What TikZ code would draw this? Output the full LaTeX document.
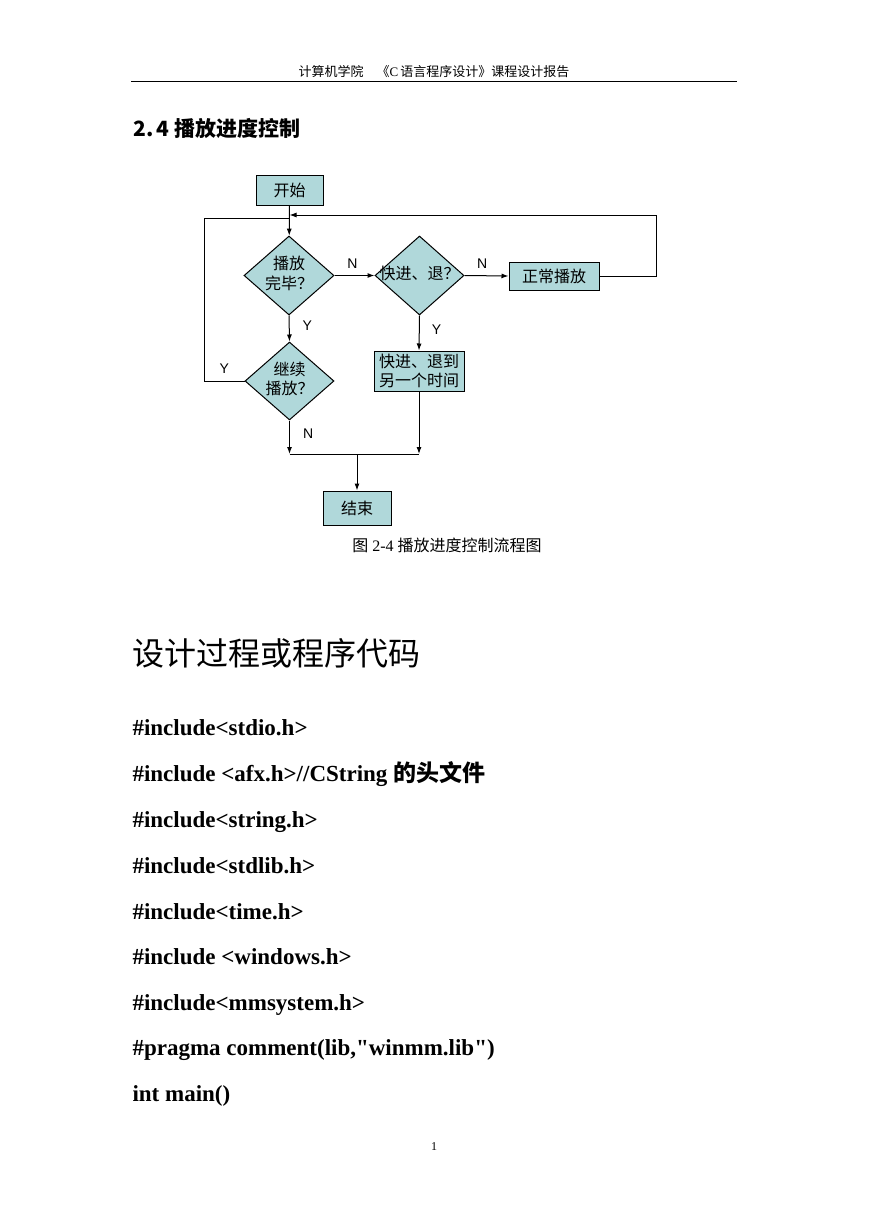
\documentclass[tikz,border=0pt]{standalone}
\usepackage{fontspec}
\setmainfont{Liberation Serif}
\newfontfamily\cjk{Noto Sans CJK SC}
\newfontfamily\ynfont{Liberation Sans}
\usetikzlibrary{shapes.geometric,arrows.meta}
\definecolor{flowfill}{RGB}{176,216,218}
\newcommand{\qtext}[1]{\makebox[0pt]{\begin{tabular}{@{}c@{}}#1\end{tabular}}}
\tikzset{
  box/.style={draw, fill=flowfill, inner sep=0pt, align=left, font=\cjk\fontsize{16}{19}\selectfont},
  decision/.style={diamond, draw, fill=flowfill, inner sep=0pt, font=\cjk\fontsize{16}{19}\selectfont},
  arr/.style={-{Latex[length=7pt,width=5pt]}},
  yn/.style={inner sep=1pt, font=\ynfont\fontsize{14}{16}\selectfont},
  codeline/.style={anchor=base west, inner sep=0pt, font=\bfseries\fontsize{23}{27}\selectfont}
}
\begin{document}
\begin{tikzpicture}[x=1pt,y=-1pt,line width=1pt]
\useasboundingbox (0,0) rectangle (869,1228);
% page header
\node[inner sep=0pt, font=\fontsize{13}{15}\selectfont] (header) at (434,72)
  {{\cjk 计算机学院\quad《}C\,{\cjk 语言程序设计》课程设计报告}};
\draw (131,82) -- (737,82);
\node[anchor=west, inner sep=0pt, font=\cjk\bfseries\fontsize{21}{25}\selectfont] (sec) at (133,128) {2.\hspace{3pt}4\hspace{5pt}播放进度控制};

% flow chart
\node[box, minimum width=67, minimum height=30] (start) at (289.5,190) {开始};
\node[decision, minimum width=90, minimum height=79] (done) at (289,275.5) {\qtext{播放\\完毕？}};
\node[decision, minimum width=89, minimum height=79] (seekq) at (419.5,275.5) {\qtext{快进、退？}};
\node[box, minimum width=90, minimum height=28] (play) at (554,276) {正常播放};
\node[decision, minimum width=89, minimum height=78] (again) at (289.5,381) {\qtext{继续\\播放？}};
\node[box, minimum width=90, minimum height=40] (seek) at (419,371) {快进、退到\\另一个时间};
\node[box, minimum width=68, minimum height=34] (finish) at (357,508) {结束};
\coordinate (join) at (357,454);
\coordinate (loopR) at (656,215);
\coordinate (loopL) at (204,218);

\draw[arr] (start) -- (done);
\draw[arr] (done.east) -- node[yn,pos=0.45,above=6pt] {N} (seekq.west);
\draw[arr] (seekq.east) -- node[yn,pos=0.4,above=6pt] {N} (play.west);
\draw[arr] (done.south) -- node[yn,pos=0.4,right=12pt] {Y} (again.north);
\draw[arr] (seekq.south) -- node[yn,pos=0.4,right=11pt] {Y} (seek.north);
\draw[arr] (play.east) -| (loopR) -- (start.south |- loopR);
\draw (again.west) -- node[yn,above=6pt] {Y} (again.west -| loopL) -- (loopL) -- (start.south |- loopL);
\draw[arr] (again.south) -- node[yn,pos=0.4,right=12pt] {N} (again.south |- join);
\draw[arr] (seek.south) -- (seek.south |- join);
\draw (again.south |- join) -- (seek.south |- join);
\draw[arr] (join) -- (finish);
\node[inner sep=0pt, font=\fontsize{16}{18}\selectfont] (caption) at (447,545) {{\cjk 图} 2-4 {\cjk 播放进度控制流程图}};

% code listing
\node[anchor=west, inner sep=0pt, font=\cjk\fontsize{32}{38}\selectfont] (code) at (132,653) {设计过程或程序代码};
\node[codeline] (stdio) at (132,735) {\#include<stdio.h>};
\node[codeline] (afx) at (132,781) {\#include <afx.h>//CString {\cjk 的头文件}};
\node[codeline] (string) at (132,827) {\#include<string.h>};
\node[codeline] (stdlib) at (132,873) {\#include<stdlib.h>};
\node[codeline] (time) at (132,919) {\#include<time.h>};
\node[codeline] (windows) at (132,964) {\#include <windows.h>};
\node[codeline] (mmsys) at (132,1010) {\#include<mmsystem.h>};
\node[codeline] (pragma) at (132,1055) {\#pragma comment(lib,\textquotedbl winmm.lib\textquotedbl)};
\node[codeline] (main) at (132,1101) {int main()};
\node[inner sep=0pt, font=\fontsize{12}{14}\selectfont] (pageno) at (434,1147) {1};
\end{tikzpicture}
\end{document}
